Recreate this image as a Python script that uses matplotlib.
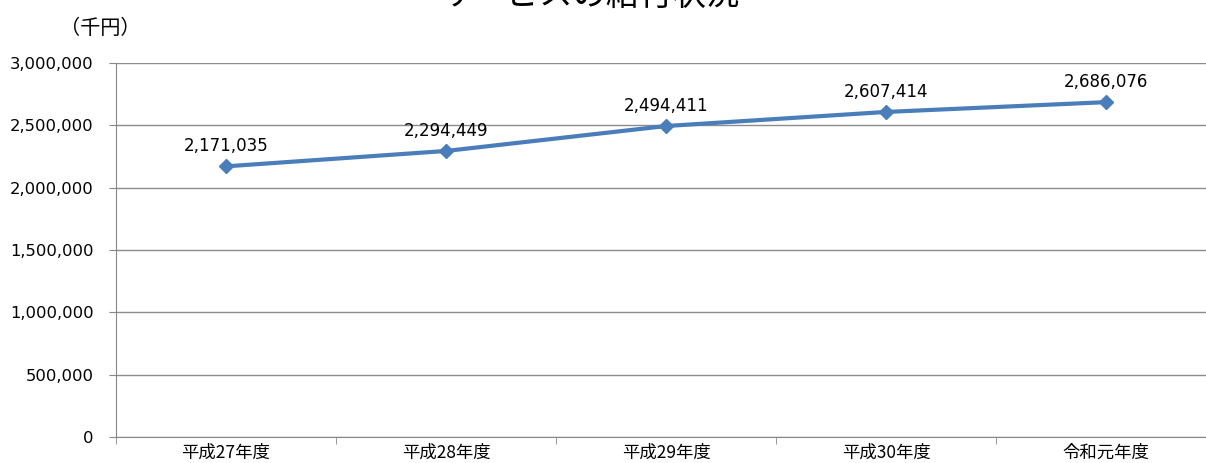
import matplotlib.pyplot as plt
from matplotlib.ticker import FuncFormatter

plt.rcParams['font.family'] = ['Noto Sans CJK JP', 'DejaVu Sans']

# data
categories = ["平成27年度", "平成28年度", "平成29年度", "平成30年度", "令和元年度"]
values = [2171035, 2294449, 2494411, 2607414, 2686076]
title = "サービスの給付状況"
unit = "（千円）"

fig = plt.figure(figsize=(12.06, 4.63), dpi=100)
# axes: left 116px, bottom 437px from top, top 63px; right edge past the image
ax = fig.add_axes([116 / 1206, (463 - 437) / 463, 1100 / 1206, 374 / 463])

x = range(len(categories))
ax.plot(x, values, color="#4A7EBB", lw=3, marker="D", markersize=7.5,
        markerfacecolor="#4A7EBB", markeredgecolor="#4A7EBB", clip_on=False)

for xi, v in zip(x, values):
    ax.annotate(f"{v:,}", (xi, v), xytext=(0, 8), textcoords="offset points",
                ha="center", va="bottom", fontsize=12, family="DejaVu Sans")

ax.set_xlim(-0.5, len(categories) - 0.5)
ax.set_ylim(0, 3000000)
ax.set_yticks(range(0, 3000001, 500000))
ax.yaxis.set_major_formatter(FuncFormatter(lambda v, p: f"{int(v):,}"))
for lab in ax.get_yticklabels():
    lab.set_family("DejaVu Sans")
ax.tick_params(axis="y", labelsize=11.8, length=5, color="#888888", pad=11)

ax.set_xticks(list(x))
ax.set_xticklabels(categories, fontsize=12.5)
ax.set_xticks([i + 0.5 for i in range(-1, len(categories))], minor=True)
ax.tick_params(axis="x", which="major", length=0, pad=5)
ax.tick_params(axis="x", which="minor", length=5, color="#888888")

ax.grid(axis="y", color="#8c8c8c", lw=1)
ax.set_axisbelow(True)
for s in ["top", "right"]:
    ax.spines[s].set_visible(False)
ax.spines["left"].set_color("#888888")
ax.spines["bottom"].set_color("#888888")

fig.text(100 / 1206, 1 - 28 / 463, unit, ha="center", va="center", fontsize=14.5)
fig.text(590 / 1206, 1 + 5 / 463, title, ha="center", va="center", fontsize=24)

fig.savefig("out.png", dpi=100)
